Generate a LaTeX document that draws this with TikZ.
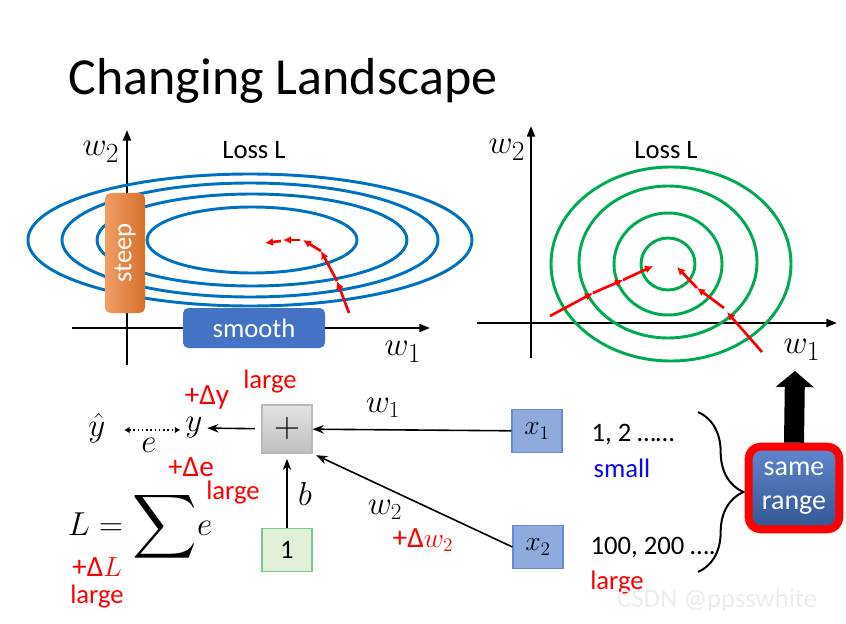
\documentclass[tikz,border=0pt]{standalone}
\usepackage{fontspec}
\setmainfont{Carlito}
\usepackage{amsmath}
\usetikzlibrary{positioning,arrows.meta,decorations.pathreplacing,shadings}

\definecolor{contourblue}{RGB}{0,112,192}
\definecolor{ringgreen}{RGB}{0,170,80}
\definecolor{steeporange}{RGB}{237,125,49}
\definecolor{smoothblue}{RGB}{68,114,196}
\definecolor{inputblue}{RGB}{143,170,220}
\definecolor{inputedge}{RGB}{100,140,210}
\definecolor{biasgreen}{RGB}{226,240,218}
\definecolor{biasedge}{RGB}{120,200,140}
\definecolor{smallblue}{RGB}{10,10,230}

\begin{document}
\begin{tikzpicture}[
    x=0.75pt, y=-0.75pt,
    >=Stealth,
    axis/.style={line width=1.6pt, -{Triangle[length=8pt,width=6pt]}},
    contour/.style={line width=2.2pt, draw=contourblue},
    ring/.style={line width=2.2pt, draw=ringgreen},
    gd/.style={line width=2pt, draw=red, -{Latex[length=6pt,width=6pt]}},
    tag/.style={rectangle, rounded corners=4pt, text=white, font=\fontsize{20}{22}\selectfont},
    lbl/.style={font=\fontsize{20}{22}\selectfont},
    mth/.style={font=\fontsize{23}{25}\selectfont},
    redlbl/.style={lbl, text=red},
    dlbl/.style={font=\fontsize{22}{24}\selectfont, text=red},
    axlbl/.style={font=\fontsize{28}{30}\selectfont},
    unit/.style={rectangle, draw, line width=0.8pt, minimum width=37.5pt, minimum height=32pt, font=\fontsize{22}{24}\selectfont},
    link/.style={line width=1.2pt, ->}
  ]
  \useasboundingbox (0,0) rectangle (846,624);

  \node[anchor=base west, font=\fontsize{39}{41}\selectfont] (title) at (64,95) {Changing Landscape};

  % left landscape
  \draw[axis] (127,365) -- (127,130);
  \draw[axis] (72,328) -- (430,328);
  \node[axlbl] (lw2) at (101,152) {$w_2$};
  \node[axlbl] (lw1) at (403,352) {$w_1$};
  \node[lbl] (lloss) at (254,150) {Loss L};
  \draw[contour] (252,240) ellipse [x radius=78.75pt, y radius=24.75pt];
  \draw[contour] (252,240) ellipse [x radius=116.25pt, y radius=34.5pt];
  \draw[contour] (250,240) ellipse [x radius=141pt, y radius=42.75pt];
  \draw[contour] (250,240) ellipse [x radius=166.5pt, y radius=49.5pt];
  \node[tag, rotate=90, minimum width=90pt, minimum height=30pt, left color=steeporange!75!white, right color=steeporange!90!black] (steep) at (125,253) {steep};
  \node[tag, minimum width=106.5pt, minimum height=30pt, fill=smoothblue] (smooth) at (254,328) {smooth};
  \draw[gd] (349,313) -- (337,281);
  \draw[gd] (337,281) -- (321,251);
  \draw[gd] (321,251) -- (303,240);
  \draw[gd] (300,240) -- (283,240);
  \draw[gd] (281,241) -- (265,243);

  % right landscape
  \draw[axis] (531,358) -- (531,126);
  \draw[axis] (477,323) -- (837,323);
  \node[axlbl] (rw2) at (507,150) {$w_2$};
  \node[axlbl] (rw1) at (802,350) {$w_1$};
  \node[lbl] (rloss) at (666,150) {Loss L};
  \draw[ring] (668,264) ellipse [x radius=20.25pt, y radius=19.5pt];
  \draw[ring] (668,264) ellipse [x radius=40.5pt, y radius=38.25pt];
  \draw[ring] (668,262) ellipse [x radius=66.75pt, y radius=57pt];
  \draw[ring] (671,264) ellipse [x radius=90pt, y radius=72.75pt];
  \draw[gd] (550,316) -- (593,293);
  \draw[gd] (593,293) -- (623,280);
  \draw[gd] (623,280) -- (653,266);
  \draw[gd] (762,352) -- (727,312);
  \draw[gd] (724,308) -- (697,288);
  \draw[gd] (697,288) -- (677,267);

  % neuron
  \node[unit, draw=gray!55, top color=gray!22, bottom color=gray!50, minimum height=36pt] (plus) at (287,429) {\scalebox{1.3}{$+$}};
  \node[unit, draw=biasedge, fill=biasgreen, font=\fontsize{20}{22}\selectfont] (one) at (287,550) {1};
  \node[unit, draw=inputedge, fill=inputblue] (x1) at (537,431) {$x_1$};
  \node[unit, draw=inputedge, fill=inputblue] (x2) at (538,547) {$x_2$};
  \node[mth] (y) at (194,428) {$y$};
  \node[mth] (yhat) at (97,428) {$\hat{y}$};
  \draw[line width=1.2pt, dotted, {Latex[length=4pt,width=5pt]}-{Latex[length=4pt,width=5pt]}] (yhat.east) ++(14,2) -- ++(56,0) coordinate (yend);
  \node[mth] (e) at (149,445) {$e$};
  \draw[link, shorten <=5pt] (plus) -- (y);
  \draw[link] (x1) -- (plus);
  \draw[link, shorten >=3pt] (x2.west) -- (plus.south east);
  \draw[link, shorten >=4pt] (one) -- (plus);
  \node[mth] (w1) at (383,408) {$w_1$};
  \node[mth] (w2) at (385,510) {$w_2$};
  \node[mth] (b) at (305,494) {$b$};
  \node[mth] (loss) at (140,527) {$L=\vcenter{\hbox{\scalebox{1.35}{$\displaystyle\sum$}}}e$};

  \node[dlbl] (dy) at (207,397) {+Δy};
  \node[redlbl] (dylarge) at (270,382) {large};
  \node[dlbl] (de) at (191,467) {+Δe};
  \node[redlbl] (delarge) at (233,493) {large};
  \node[dlbl] (dl) at (97,567) {+Δ$L$};
  \node[redlbl] (dllarge) at (97,597) {large};
  \node[dlbl] (dw2) at (423,540) {+Δ$w_2$};

  % feature ranges
  \node[lbl] (r1) at (633,435) {1, 2 ……};
  \node[lbl, text=smallblue] (small) at (622,468) {small};
  \node[lbl] (r2) at (653,548) {100, 200 ….};
  \node[redlbl] (large) at (617,583) {large};
  \draw[line width=1.5pt, decorate, decoration={brace, amplitude=34pt}] (698,412) -- (698,572);
  \node[tag, align=center, rounded corners=9pt, draw=red, line width=6pt, top color=smoothblue!85!white, bottom color=smoothblue!75!black, minimum width=68pt, minimum height=62pt, font=\fontsize{21}{25}\selectfont] (same) at (794,488) {same\\range};
  \coordinate (uptip) at (795,371);
  \draw[line width=15pt, -{Triangle[width=28pt,length=12pt]}] (same.north) -- (uptip);

  \node[lbl, text=gray!15] (mark) at (717,600) {CSDN @ppsswhite};
\end{tikzpicture}
\end{document}
